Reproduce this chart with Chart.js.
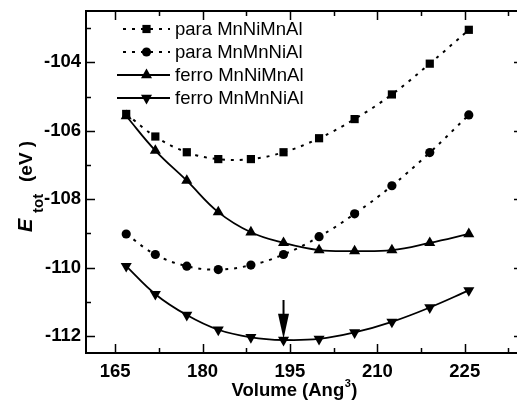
<!DOCTYPE html>
<html>
<head>
<meta charset="utf-8">
<script src="https://cdn.jsdelivr.net/npm/chart.js@4/dist/chart.umd.min.js"></script>
<style>
  html, body { margin: 0; padding: 0; background: #fff; overflow: hidden; }
  #wrap { width: 517px; height: 400px; overflow: hidden; }
</style>
</head>
<body>
<div id="wrap"><canvas id="etot" width="530" height="400"></canvas></div>
<script>
// Volumes (Ang^3), shared by all four series
const volumes = [166.9, 171.9, 177.3, 182.7, 188.3, 193.9, 200.0, 206.1, 212.5, 219.0, 225.7];

// Total energies (eV)
const paraMnNiMnAl  = [-105.51, -106.17, -106.63, -106.83, -106.83, -106.63, -106.22, -105.66, -104.94, -104.04, -103.05];
const paraMnMnNiAl  = [-109.02, -109.62, -109.96, -110.06, -109.93, -109.62, -109.10, -108.43, -107.61, -106.64, -105.54];
const ferroMnNiMnAl = [-105.57, -106.58, -107.46, -108.38, -108.97, -109.28, -109.49, -109.52, -109.49, -109.28, -109.02];
const ferroMnMnNiAl = [-109.96, -110.78, -111.39, -111.82, -112.04, -112.12, -112.09, -111.90, -111.59, -111.17, -110.67];

const seriesNames = ['para MnNiMnAl', 'para MnMnNiAl', 'ferro MnNiMnAl', 'ferro MnMnNiAl'];

// Axes
const xTicks      = [165, 180, 195, 210, 225];
const xMinorTicks = [172.5, 187.5, 202.5, 217.5, 232.5];
const yTicks      = [-112, -110, -108, -106, -104];
const yMinorTicks = [-111, -109, -107, -105, -103];

// Arrow marking the ferro MnMnNiAl minimum
const arrowVolume = 193.9;
const arrowTail   = -110.95;
const arrowTip    = -112.08;

const FONT = '"Liberation Sans", Arial, Helvetica, sans-serif';
const toPts = ys => volumes.map((v, i) => ({ x: v, y: ys[i] }));

const styles = [
  { pointStyle: 'rect',     radius: 5.8, rotation: 0,   dash: [3, 6], width: 2 },
  { pointStyle: 'circle',   radius: 4.6, rotation: 0,   dash: [3, 6], width: 2 },
  { pointStyle: 'triangle', radius: 6.4, rotation: 0,   dash: [],     width: 1.8 },
  { pointStyle: 'triangle', radius: 6.4, rotation: 180, dash: [],     width: 1.8 },
];

const datasets = [paraMnNiMnAl, paraMnMnNiAl, ferroMnNiMnAl, ferroMnMnNiAl].map((ys, i) => ({
  label:                seriesNames[i],
  data:                 toPts(ys),
  borderColor:          '#000',
  borderWidth:          styles[i].width,
  borderDash:           styles[i].dash,
  tension:              0.4,
  fill:                 false,
  pointStyle:           styles[i].pointStyle,
  pointRadius:          styles[i].radius,
  pointRotation:        styles[i].rotation,
  pointBackgroundColor: '#000',
  pointBorderColor:     '#000',
  pointBorderWidth:     0,
}));

function marker(ctx, st, x, y) {
  ctx.save();
  ctx.fillStyle = '#000';
  ctx.beginPath();
  const r = st.radius;
  if (st.pointStyle === 'rect') {
    const s = r * Math.SQRT1_2;
    ctx.rect(x - s, y - s, 2 * s, 2 * s);
  } else if (st.pointStyle === 'circle') {
    ctx.arc(x, y, r, 0, Math.PI * 2);
  } else {
    let a = st.rotation * Math.PI / 180;
    for (let k = 0; k < 3; k++) {
      const px = x + Math.sin(a) * r, py = y - Math.cos(a) * r;
      k ? ctx.lineTo(px, py) : ctx.moveTo(px, py);
      a += 2 * Math.PI / 3;
    }
    ctx.closePath();
  }
  ctx.fill();
  ctx.restore();
}

// Frame with inward major/minor ticks
const framePlugin = {
  id: 'frame',
  afterDraw(chart) {
    const { ctx, chartArea: a, scales: { x, y } } = chart;
    ctx.save();
    ctx.strokeStyle = '#000';
    ctx.lineWidth = 2;
    ctx.strokeRect(a.left, a.top, a.right - a.left, a.bottom - a.top);
    ctx.lineWidth = 1.5;
    ctx.beginPath();
    const xt = (v, len) => {
      const px = Math.round(x.getPixelForValue(v)) + 0.5;
      ctx.moveTo(px, a.bottom); ctx.lineTo(px, a.bottom - len);
      ctx.moveTo(px, a.top);    ctx.lineTo(px, a.top + len);
    };
    const yt = (v, len) => {
      const py = Math.round(y.getPixelForValue(v)) + 0.5;
      ctx.moveTo(a.left, py);  ctx.lineTo(a.left + len, py);
      ctx.moveTo(a.right, py); ctx.lineTo(a.right - len, py);
    };
    xTicks.forEach(v => xt(v, 9));
    xMinorTicks.forEach(v => xt(v, 5));
    yTicks.forEach(v => yt(v, 9));
    yMinorTicks.forEach(v => yt(v, 5));
    ctx.stroke();
    ctx.restore();
  },
};

// Legend: line sample with marker in the middle
const legendPlugin = {
  id: 'lineLegend',
  afterDraw(chart) {
    const { ctx } = chart;
    ctx.save();
    seriesNames.forEach((name, i) => {
      const st = styles[i];
      const yy = 29 + i * 23;
      ctx.strokeStyle = '#000';
      ctx.lineWidth = st.width;
      ctx.setLineDash(st.dash);
      ctx.beginPath();
      ctx.moveTo(st.dash.length ? 123 : 117, yy);
      ctx.lineTo(170, yy);
      ctx.stroke();
      ctx.setLineDash([]);
      marker(ctx, st, 146.5, yy);
      ctx.fillStyle = '#000';
      ctx.font = '18.5px ' + FONT;
      ctx.textBaseline = 'middle';
      ctx.textAlign = 'left';
      ctx.fillText(name, 175, yy + 1);
    });
    ctx.restore();
  },
};

const arrowPlugin = {
  id: 'arrow',
  afterDatasetsDraw(chart) {
    const { ctx, scales: { x, y } } = chart;
    const px = x.getPixelForValue(arrowVolume);
    const y1 = y.getPixelForValue(arrowTail);
    const y2 = y.getPixelForValue(arrowTip);
    ctx.save();
    ctx.strokeStyle = '#000';
    ctx.fillStyle = '#000';
    ctx.lineWidth = 2;
    ctx.beginPath();
    ctx.moveTo(px, y1); ctx.lineTo(px, y2 - 20);
    ctx.stroke();
    ctx.beginPath();
    ctx.moveTo(px - 5.5, y2 - 25);
    ctx.lineTo(px + 5.5, y2 - 25);
    ctx.lineTo(px, y2);
    ctx.closePath();
    ctx.fill();
    ctx.restore();
  },
};

// Axis titles with sub/superscripts
const titlePlugin = {
  id: 'titles',
  afterDraw(chart) {
    const { ctx } = chart;
    ctx.save();
    ctx.fillStyle = '#000';
    ctx.textAlign = 'left';
    ctx.textBaseline = 'alphabetic';
    // y title: E_tot (eV )
    ctx.translate(31.5, 232);
    ctx.rotate(-Math.PI / 2);
    ctx.font = 'italic bold 20px ' + FONT;
    ctx.fillText('E', 0, 0);
    ctx.font = 'bold 15px ' + FONT;
    ctx.fillText('tot', 19, 11);
    ctx.font = 'bold 19px ' + FONT;
    ctx.fillText('(eV )', 50, 0);
    ctx.setTransform(1, 0, 0, 1, 0, 0);
    // x title: Volume (Ang^3)
    ctx.font = 'bold 18.5px ' + FONT;
    const base = 'Volume (Ang';
    ctx.fillText(base, 231.5, 396);
    const w = ctx.measureText(base).width;
    ctx.font = 'bold 11px ' + FONT;
    ctx.fillText('3', 231.5 + w + 0.5, 387);
    const w3 = ctx.measureText('3').width;
    ctx.font = 'bold 18.5px ' + FONT;
    ctx.fillText(')', 231.5 + w + w3 + 1, 396);
    ctx.restore();
  },
};

const tickFont = { family: FONT, size: 18.5, weight: 'bold' };

new Chart(document.getElementById('etot'), {
  type: 'line',
  data: { datasets },
  options: {
    responsive: false,
    animation:  false,
    layout:     { padding: { top: 11, right: 7, left: 0, bottom: 0 } },
    plugins:    { legend: { display: false }, tooltip: { enabled: false } },
    scales: {
      x: {
        type: 'linear',
        min:  160,
        max:  235,
        grid:   { display: false, drawTicks: false },
        border: { display: false },
        ticks:  { color: '#000', font: tickFont, padding: 8 },
        afterBuildTicks: s => { s.ticks = xTicks.map(v => ({ value: v })); },
        afterFit: s => { s.height = 47; s.paddingLeft = 0; s.paddingRight = 0; },
      },
      y: {
        min: -112.5,
        max: -102.5,
        grid:   { display: false, drawTicks: false },
        border: { display: false },
        ticks:  { color: '#000', font: tickFont, padding: 5 },
        afterBuildTicks: s => { s.ticks = yTicks.map(v => ({ value: v })); },
        afterFit: s => { s.width = 86; s.paddingTop = 0; s.paddingBottom = 0; },
      },
    },
  },
  plugins: [framePlugin, legendPlugin, arrowPlugin, titlePlugin],
});
</script>
</body>
</html>
